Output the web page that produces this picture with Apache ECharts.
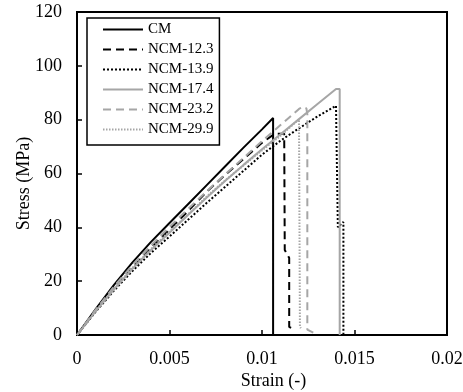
<!DOCTYPE html>
<html>
<head>
<meta charset="utf-8">
<script src="https://cdn.jsdelivr.net/npm/echarts@6/dist/echarts.min.js"></script>
<style>
html,body{margin:0;padding:0;background:#fff;}
#chart{width:463px;height:392px;}
</style>
</head>
<body>
<div id="chart"></div>
<script>
// Data (strain in -, stress in MPa)
const seriesNames = ['CM', 'NCM-12.3', 'NCM-13.9', 'NCM-17.4', 'NCM-23.2', 'NCM-29.9'];

const cmStrain = [0, 0.001, 0.002, 0.003, 0.004, 0.005, 0.006, 0.007, 0.008, 0.009, 0.010, 0.0106, 0.0106];
const cmStress = [0, 9.5, 18.6, 27, 34.6, 41.6, 48.6, 55.6, 62.6, 69.6, 76.4, 80.6, 0];

const n123Strain = [0, 0.001, 0.002, 0.003, 0.004, 0.005, 0.006, 0.007, 0.008, 0.009, 0.010, 0.0107, 0.0112, 0.01123, 0.01147, 0.01147, 0.0116];
const n123Stress = [0, 9, 17.5, 25, 32.3, 39.2, 46, 53.2, 59.4, 65.4, 71.4, 74.8, 74.8, 31.6, 28.6, 3, 2.5];

const n139Strain = [0, 0.001, 0.002, 0.003, 0.004, 0.005, 0.006, 0.007, 0.008, 0.009, 0.010, 0.011, 0.012, 0.013, 0.014, 0.0141, 0.0141, 0.0144, 0.0144];
const n139Stress = [0, 8.6, 16.5, 23.8, 30.5, 36.6, 42.8, 49, 55, 61, 67, 72.2, 76.8, 81.2, 85.2, 85.5, 40, 42, 0];

const n174Strain = [0, 0.001, 0.002, 0.003, 0.004, 0.005, 0.006, 0.007, 0.008, 0.009, 0.010, 0.011, 0.012, 0.013, 0.014, 0.0142, 0.0142];
const n174Stress = [0, 8.8, 17, 24.6, 31.6, 38, 44.6, 51, 57.2, 63.2, 69, 74.6, 80.2, 85.8, 91.4, 91.4, 0];

const n232Strain = [0, 0.001, 0.002, 0.003, 0.004, 0.005, 0.006, 0.007, 0.008, 0.009, 0.010, 0.011, 0.012, 0.0122, 0.0124, 0.01245, 0.01245, 0.0128];
const n232Stress = [0, 9.3, 18, 26, 33.3, 40.2, 46.8, 53.3, 59.6, 65.8, 72, 78, 84, 84.8, 84.2, 82, 2, 0.8];

const n299Strain = [0, 0.001, 0.002, 0.003, 0.004, 0.005, 0.006, 0.007, 0.008, 0.009, 0.010, 0.011, 0.012, 0.01205, 0.01205, 0.0121];
const n299Stress = [0, 8.9, 17.2, 25, 32, 38.5, 44.8, 51.4, 57.4, 63, 68.6, 74, 80.2, 80.5, 3, 2.5];

const xTicks = [0, 0.005, 0.01, 0.015, 0.02];
const yTicks = [0, 20, 40, 60, 80, 100, 120];

function pairs(xs, ys) { return xs.map((x, i) => [x, ys[i]]); }

const BLACK = '#000000';
const GRAY = '#a6a6a6';
const FONT = 'Liberation Serif';

const styles = [
  { color: BLACK, type: 'solid', width: 2 },
  { color: BLACK, type: [8, 5], width: 2 },
  { color: BLACK, type: [2, 2], width: 2 },
  { color: GRAY, type: 'solid', width: 2 },
  { color: GRAY, type: [8, 5], width: 2 },
  { color: GRAY, type: [1.5, 1.5], width: 2 }
];
const dataSets = [
  pairs(cmStrain, cmStress),
  pairs(n123Strain, n123Stress),
  pairs(n139Strain, n139Stress),
  pairs(n174Strain, n174Stress),
  pairs(n232Strain, n232Stress),
  pairs(n299Strain, n299Stress)
];

const chart = echarts.init(document.getElementById('chart'), null, { renderer: 'canvas' });
chart.setOption({
  animation: false,
  backgroundColor: '#fff',
  grid: { left: 77, top: 12, right: 16, bottom: 57, show: true, borderColor: BLACK, borderWidth: 2,
          containLabel: false, outerBoundsMode: 'none' },
  legend: {
    orient: 'vertical', left: 87, top: 18,
    data: seriesNames,
    itemWidth: 40, itemHeight: 14, itemGap: 5,
    padding: [4, 6, 8, 15],
    borderColor: BLACK, borderWidth: 1.5, backgroundColor: '#fff',
    itemStyle: { opacity: 0 },
    textStyle: { fontFamily: FONT, fontSize: 15, color: BLACK }
  },
  xAxis: {
    type: 'value', min: 0, max: 0.02, interval: 0.005,
    name: 'Strain (-)', nameLocation: 'middle', nameGap: 37, nameMoveOverlap: false,
    nameTextStyle: { fontFamily: FONT, fontSize: 18, color: BLACK, padding: [0, 0, 0, 23] },
    axisLine: { show: true, lineStyle: { color: BLACK, width: 2 } },
    axisTick: { show: true, inside: true, length: 5, lineStyle: { color: BLACK, width: 1.5 } },
    axisLabel: { fontFamily: FONT, fontSize: 18, color: BLACK, margin: 15,
      formatter: v => { const t = xTicks.find(k => Math.abs(k - v) < 1e-9); return t === undefined ? '' : String(t); } },
    splitLine: { show: false }
  },
  yAxis: {
    type: 'value', min: 0, max: 120, interval: 20,
    name: 'Stress (MPa)', nameLocation: 'middle', nameGap: 44, nameMoveOverlap: false,
    nameTextStyle: { fontFamily: FONT, fontSize: 18, color: BLACK, padding: [0, 20, 0, 0] },
    axisLine: { show: true, lineStyle: { color: BLACK, width: 2 } },
    axisTick: { show: true, inside: true, length: 5, lineStyle: { color: BLACK, width: 1.5 } },
    axisLabel: { fontFamily: FONT, fontSize: 18, color: BLACK, margin: 15,
      formatter: v => yTicks.includes(v) ? String(v) : '' },
    splitLine: { show: false }
  },
  series: seriesNames.map((name, i) => ({
    name, type: 'line', data: dataSets[i], symbol: 'none', showSymbol: false,
    lineStyle: styles[i], itemStyle: { color: styles[i].color }, z: 2 + i
  }))
});
</script>
</body>
</html>
